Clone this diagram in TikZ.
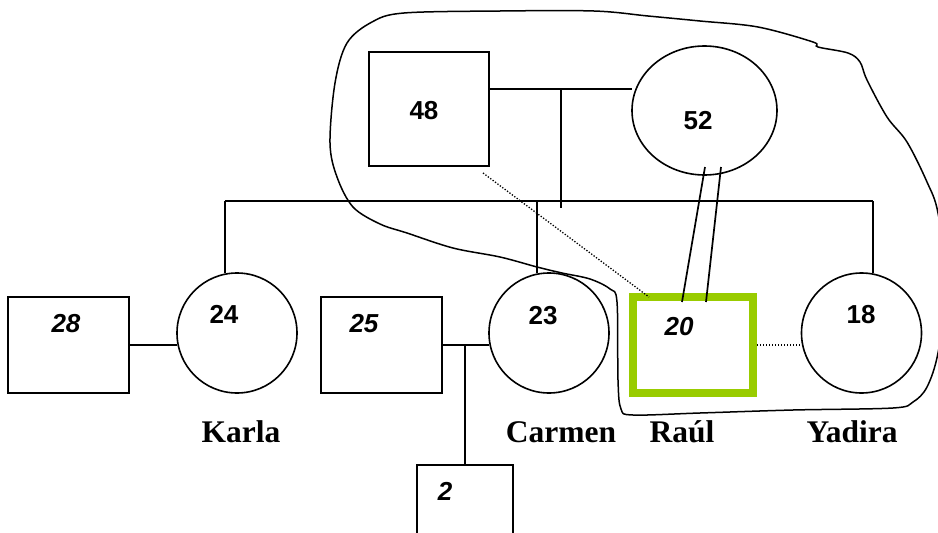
\documentclass[tikz,border=0pt]{standalone}
\usepackage{fontspec}
\setmainfont{Liberation Serif}
\newfontfamily\arialfam{Liberation Sans}
\usetikzlibrary{shapes.geometric}
\definecolor{limegreen}{HTML}{99CC00}
\begin{document}
\begin{tikzpicture}[x=1pt,y=-1pt,
  line width=1.6pt,
  person/.style={draw, inner sep=0pt, outer sep=0pt},
  male/.style={person, rectangle, minimum width=#1},
  female/.style={person, circle, minimum size=120pt},
  agelbl/.style={font=\arialfam\bfseries\fontsize{26}{30}\selectfont, anchor=base, inner sep=0pt},
  ageit/.style={agelbl, font=\arialfam\bfseries\itshape\fontsize{26}{30}\selectfont},
  namelbl/.style={font=\bfseries\fontsize{31.5}{36}\selectfont, anchor=base, inner sep=0pt},
  weakline/.style={line width=1.3pt, dash pattern=on 1.3pt off 1.7pt},
  bondline/.style={line width=1.7pt}]
\useasboundingbox (0,0) rectangle (938,533);
\clip (0,0) rectangle (938,533);

% hand-drawn boundary around the household
\draw[line width=1.5pt] plot[smooth cycle, tension=0.55] coordinates {
  (335,83) (347,43) (372,22) (404,13) (500,11) (594,11) (648,16) (700,21)
  (758,27) (813,42) (818,47) (848,53) (860,62) (867,80) (887,117) (907,142)
  (927,182) (938,213) (947,285) (938,353) (927,387) (913,402) (893,408)
  (793,410) (700,413) (633,415) (621,409) (618,380) (617,302) (610,289)
  (590,279) (562,273) (537,267) (500,257) (453,248) (407,233) (380,224)
  (353,207) (337,177) (330,143)};

% parents
\node[male, minimum height=114pt, minimum width=120pt] (f48) at (429,109) {};
\node[person, ellipse, minimum width=145pt, minimum height=129pt] (m52) at (704.5,110.5) {};

% children and partners
\node[male, minimum height=96pt, minimum width=121pt] (p28) at (68.5,345) {};
\node[female] (k24) at (237,333) {};
\node[male, minimum height=96pt, minimum width=121pt] (p25) at (381.5,345) {};
\node[female] (c23) at (549,333) {};
\node[male, minimum height=96pt, minimum width=120pt, draw=limegreen, line width=8pt] (r20) at (693,345) {};
\node[female] (y18) at (861.5,333) {};
\node[male, minimum height=96pt, minimum width=96pt] (g2) at (465,513) {};

% ages
\node[agelbl] (a48) at (424,119) {48};
\node[agelbl] (a52) at (698,129) {52};
\node[ageit] (a28) at (66,332) {28};
\node[agelbl] (a24) at (224,323) {24};
\node[ageit] (a25) at (364,332) {25};
\node[agelbl] (a23) at (543,324) {23};
\node[ageit] (a20) at (679,335) {20};
\node[agelbl] (a18) at (861,323) {18};
\node[ageit] (a2) at (445,500) {2};

% names
\node[namelbl] (nk) at (241,442) {Karla};
\node[namelbl] (nc) at (561,442) {Carmen};
\node[namelbl] (nr) at (682,442) {Raúl};
\node[namelbl] (ny) at (852,442) {Yadira};

% couple line and line of descent
\coordinate (cpl) at (561,89);
\coordinate (dsc) at (561,208);
\draw (f48.east |- cpl) -- (m52.west |- cpl);
\draw (cpl) -- (dsc);

% sibship line
\coordinate (sibL) at (225,201);
\coordinate (sibR) at (873,201);
\draw (sibL) -- (sibR);
\draw (sibL) -- (sibL |- k24.north);
\draw (sibL -| 537,0) -- ([xshift=-12pt]c23.north);
\draw (sibR) -- ([xshift=11.5pt]y18.north);

% couples of the next generation
\draw (p28.east) -- (p28.east -| k24.west);
\draw (p25.east) -- (p25.east -| c23.west);
\coordinate (cpl2) at (465,345);
\draw (cpl2) -- (g2.north);

% weak / distant relationships
\draw[weakline] ([shift={(-6,7)}]f48.south east) -- ([xshift=16pt]r20.north west);
\draw[weakline] ([xshift=4pt]r20.east) -- (y18.west |- r20.east);

% close bond between mother and son
\draw[bondline] ([shift={(0.5,56.5)}]m52.center) -- ([shift={(49,5)}]r20.north west);
\draw[bondline] ([shift={(16.5,56.5)}]m52.center) -- ([shift={(73,5)}]r20.north west);
\end{tikzpicture}
\end{document}
